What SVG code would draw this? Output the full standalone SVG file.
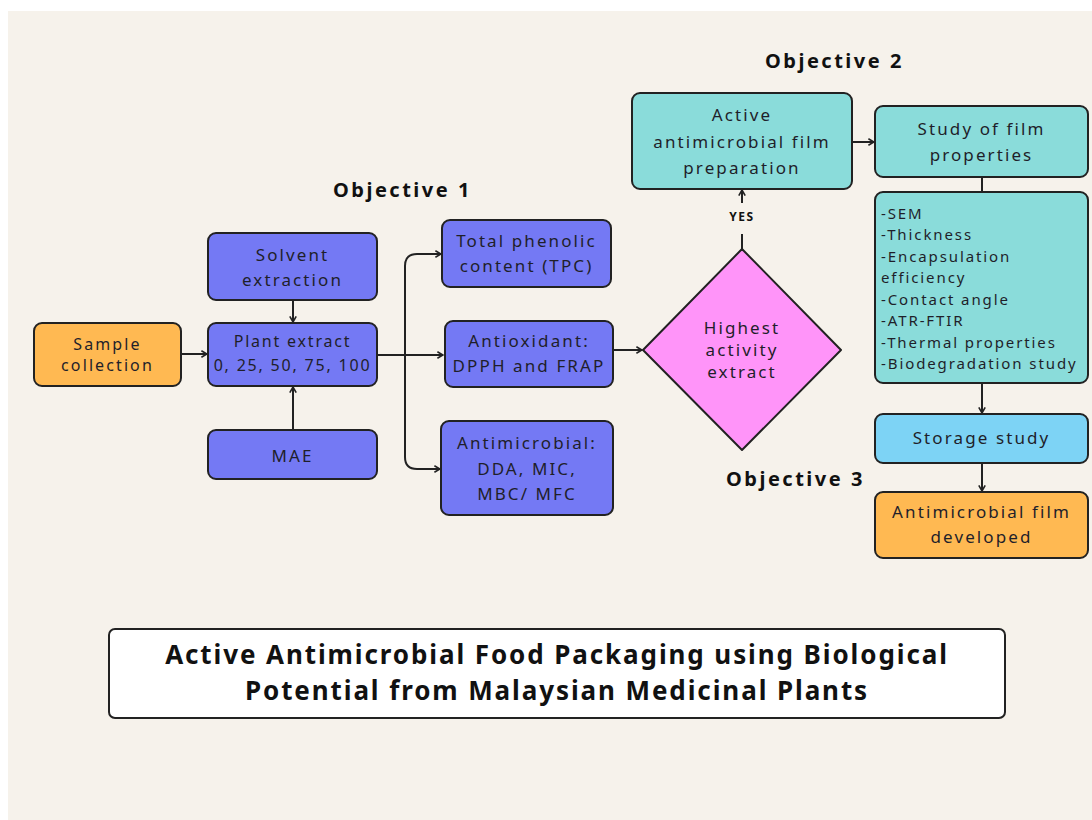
<svg xmlns="http://www.w3.org/2000/svg" width="1092" height="820" viewBox="0 0 1092 820">
<style>
.box{stroke:#222;stroke-width:2}
.blue{fill:#7479F4}
.teal{fill:#8ADCDA}
.sky{fill:#7DD3F5}
.orange{fill:#FFB952}
.pink{fill:#FF94F9}
.t{font-family:"Noto Sans",sans-serif;font-size:17px;fill:#1f1f2a;text-anchor:middle;letter-spacing:2.1px}
.s{font-family:"Noto Sans",sans-serif;font-size:15px;fill:#1f1f2a;letter-spacing:1.9px}
.obj{font-family:"Noto Sans",sans-serif;font-size:20px;font-weight:bold;fill:#111;letter-spacing:2.5px}
.ttl{font-family:"Noto Sans",sans-serif;font-size:26px;font-weight:bold;fill:#111;text-anchor:middle;letter-spacing:1.9px}
.c{fill:none;stroke:#222;stroke-width:2}
</style>
<defs>
<marker id="ah" viewBox="0 0 10 10" refX="9" refY="5" markerWidth="8" markerHeight="8" markerUnits="userSpaceOnUse" orient="auto">
<path d="M2,1 L9,5 L2,9" fill="none" stroke="#222" stroke-width="2"/>
</marker>
</defs>
<rect x="0" y="0" width="1092" height="820" fill="#ffffff"/>
<rect x="8" y="11" width="1084" height="809" fill="#F6F2EB"/>

<g id="connectors">
<path class="c" d="M181,354 H207" marker-end="url(#ah)"/>
<path class="c" d="M293,300 V322" marker-end="url(#ah)"/>
<path class="c" d="M293,430 V387" marker-end="url(#ah)"/>
<path class="c" d="M377,355 H443" marker-end="url(#ah)"/>
<path class="c" d="M405,355 V266 Q405,254 417,254 H441" marker-end="url(#ah)"/>
<path class="c" d="M405,355 V457 Q405,469 417,469 H440" marker-end="url(#ah)"/>
<path class="c" d="M613,350 H642" marker-end="url(#ah)"/>
<path class="c" d="M742,249 V234"/>
<path class="c" d="M742,203 V190" marker-end="url(#ah)"/>
<path class="c" d="M852,142 H874" marker-end="url(#ah)"/>
<path class="c" d="M982,177 V192"/>
<path class="c" d="M982,383 V413" marker-end="url(#ah)"/>
<path class="c" d="M982,463 V491" marker-end="url(#ah)"/>
<text x="742" y="221" style="font-family:'Noto Sans',sans-serif;font-size:12px;font-weight:bold;fill:#111;text-anchor:middle;letter-spacing:1.5px">YES</text>
</g>

<g id="sample">
<rect class="box orange" x="34" y="323" width="147" height="63" rx="8"/>
<text class="t" x="107.5" y="350" style="font-size:16px">Sample</text>
<text class="t" x="107.5" y="371" style="font-size:16px">collection</text>
</g>
<g id="solvent">
<rect class="box blue" x="208" y="233" width="169" height="67" rx="8"/>
<text class="t" x="292.5" y="261">Solvent</text>
<text class="t" x="292.5" y="286">extraction</text>
</g>
<g id="plant">
<rect class="box blue" x="208" y="323" width="169" height="63" rx="8"/>
<text class="t" x="292.5" y="347" style="font-size:16px;letter-spacing:1.8px">Plant extract</text>
<text class="t" x="292.5" y="371" style="font-size:16px;letter-spacing:1.8px">0, 25, 50, 75, 100</text>
</g>
<g id="mae">
<rect class="box blue" x="208" y="430" width="169" height="49" rx="8"/>
<text class="t" x="292.5" y="462">MAE</text>
</g>
<g id="tpc">
<rect class="box blue" x="442" y="220" width="169" height="67" rx="8"/>
<text class="t" x="526.5" y="247">Total phenolic</text>
<text class="t" x="526.5" y="272">content (TPC)</text>
</g>
<g id="antioxidant">
<rect class="box blue" x="445" y="321" width="168" height="66" rx="8"/>
<text class="t" x="529" y="347">Antioxidant:</text>
<text class="t" x="529" y="372">DPPH and FRAP</text>
</g>
<g id="antimicrobial">
<rect class="box blue" x="441" y="421" width="172" height="94" rx="8"/>
<text class="t" x="527" y="449">Antimicrobial:</text>
<text class="t" x="527" y="475">DDA, MIC,</text>
<text class="t" x="527" y="500">MBC/ MFC</text>
</g>
<g id="decision">
<path class="box pink" d="M742,249 L841,350 L742,450 L643,350 Z" stroke-linejoin="round"/>
<text class="t" x="742" y="334">Highest</text>
<text class="t" x="742" y="356">activity</text>
<text class="t" x="742" y="378">extract</text>
</g>
<g id="filmprep">
<rect class="box teal" x="632" y="93" width="220" height="96" rx="8"/>
<text class="t" x="742" y="121">Active</text>
<text class="t" x="742" y="148">antimicrobial film</text>
<text class="t" x="742" y="174">preparation</text>
</g>
<g id="filmprops">
<rect class="box teal" x="875" y="106" width="213" height="71" rx="8"/>
<text class="t" x="981.5" y="135">Study of film</text>
<text class="t" x="981.5" y="161">properties</text>
</g>
<g id="list">
<rect class="box teal" x="875" y="192" width="213" height="191" rx="8"/>
<text class="s" x="881" y="219">-SEM</text>
<text class="s" x="881" y="240">-Thickness</text>
<text class="s" x="881" y="262">-Encapsulation</text>
<text class="s" x="881" y="283">efficiency</text>
<text class="s" x="881" y="305">-Contact angle</text>
<text class="s" x="881" y="326">-ATR-FTIR</text>
<text class="s" x="881" y="348">-Thermal properties</text>
<text class="s" x="881" y="369">-Biodegradation study</text>
</g>
<g id="storage">
<rect class="box sky" x="875" y="414" width="213" height="49" rx="8"/>
<text class="t" x="981.5" y="444">Storage study</text>
</g>
<g id="developed">
<rect class="box orange" x="875" y="492" width="213" height="66" rx="8"/>
<text class="t" x="981.5" y="518">Antimicrobial film</text>
<text class="t" x="981.5" y="543">developed</text>
</g>
<g id="objectives">
<text class="obj" x="333" y="197">Objective 1</text>
<text class="obj" x="765" y="68">Objective 2</text>
<text class="obj" x="726" y="486">Objective 3</text>
</g>
<g id="title">
<rect x="109" y="629" width="896" height="89" rx="6" fill="#ffffff" stroke="#222" stroke-width="2"/>
<text class="ttl" x="557" y="664">Active Antimicrobial Food Packaging using Biological</text>
<text class="ttl" x="557" y="700">Potential from Malaysian Medicinal Plants</text>
</g>
</svg>
